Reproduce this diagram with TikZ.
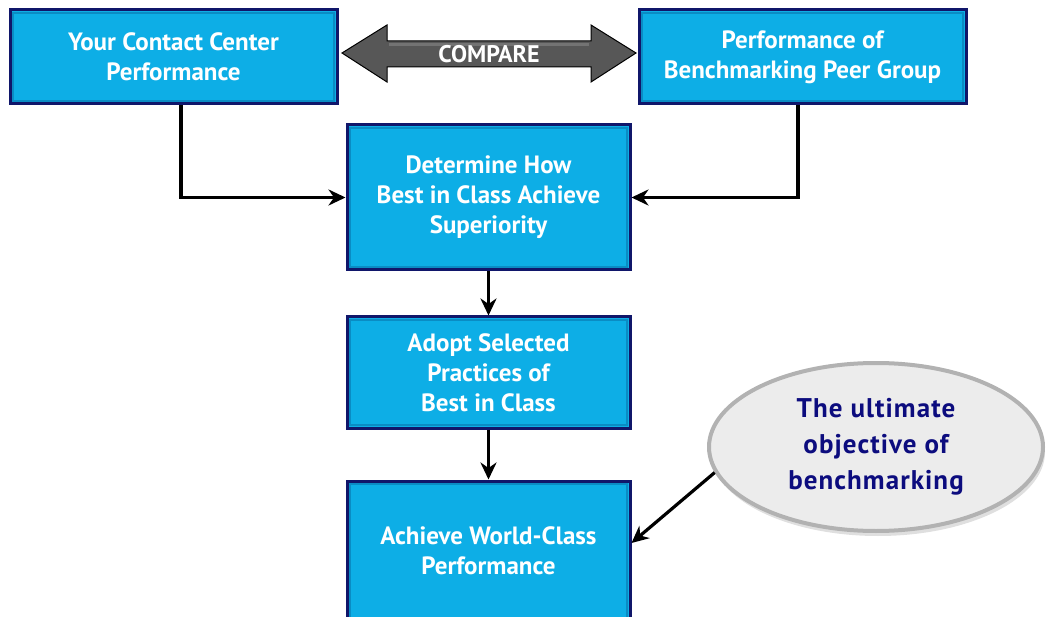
\documentclass[tikz,border=0pt]{standalone}
\usepackage{fontspec}
\setmainfont{PT Sans}
\newfontfamily\ellfont{PT Sans}[LetterSpace=4]
\usetikzlibrary{arrows.meta,shapes.geometric,shadows}
\definecolor{boxblue}{HTML}{0DAEE6}
\definecolor{bevel}{HTML}{0A8CC4}
\definecolor{navyb}{HTML}{10166A}
\definecolor{navyt}{HTML}{0C0C7E}
\definecolor{arrgray}{HTML}{575757}
\definecolor{ellfill}{HTML}{ECECEC}
\definecolor{elldraw}{HTML}{B2B2B2}
\tikzset{
  stepbox/.style={rectangle, fill=boxblue, draw=navyb, line width=3pt, text=white,
    align=center, font=\fontsize{25}{30}\selectfont\bfseries, inner sep=0pt,
    path picture={\draw[bevel, line width=2pt]
      ([shift={(3pt,-3pt)}]path picture bounding box.north west) rectangle
      ([shift={(-3pt,3pt)}]path picture bounding box.south east);}},
  conn/.style={draw=black, line width=3.2pt, -{Stealth[length=17pt,width=16pt]}},
  bubble/.style={ellipse, fill=ellfill, draw=elldraw, line width=4pt, text=navyt,
    align=center, font=\fontsize{27}{36}\selectfont\ellfont\bfseries, inner sep=0pt,
    drop shadow={opacity=0.25, shadow xshift=2pt, shadow yshift=-5pt}},
}
\begin{document}
\begin{tikzpicture}[x=1pt,y=-1pt]
\useasboundingbox (0,0) rectangle (1046,617);
\clip (0,0) rectangle (1046,617);
\node[stepbox, minimum width=327pt, minimum height=94pt] (b1) at (173.5,57) {Your Contact Center\\Performance};
\node[stepbox, minimum width=327pt, minimum height=94pt] (b2) at (802.5,57) {Performance of\\Benchmarking Peer Group};
\node[stepbox, minimum width=283pt, minimum height=145pt] (b3) at (488.5,197.5) {Determine How\\Best in Class Achieve\\Superiority};
\node[stepbox, minimum width=283pt, minimum height=111pt] (b4) at (488.5,372.5) {Adopt Selected\\Practices of\\Best in Class};
\node[stepbox, minimum width=283pt, minimum height=140pt] (b5) at (488.5,551) {Achieve World-Class\\Performance};
\node[bubble, minimum width=334pt, minimum height=168pt] (ell) at (876,447) {The ultimate\\objective of\\benchmarking};
% compare arrow
\filldraw[fill=arrgray, draw=black, line width=1pt]
  (342,53) -- (387,25) -- (387,41) -- (591,41) -- (591,25) -- (636,53)
  -- (591,82) -- (591,67) -- (387,67) -- (387,82) -- cycle;
\fill[gray!70!arrgray] (389,43) rectangle (589,46);
\node[text=white, font=\fontsize{24}{28}\selectfont\bfseries, inner sep=0pt] (cmp) at (489,54) {COMPARE};
% connectors
\draw[conn] ([xshift=7.5pt]b1.south) |- (b3.west);
\draw[conn] ([xshift=-4.5pt]b2.south) |- (b3.east);
\draw[conn] (b3.south) -- (b4.north);
\draw[conn] (b4.south) -- (b5.north);
\draw[conn] (ell.189) -- ([yshift=8pt]b5.east);
\end{tikzpicture}
\end{document}
